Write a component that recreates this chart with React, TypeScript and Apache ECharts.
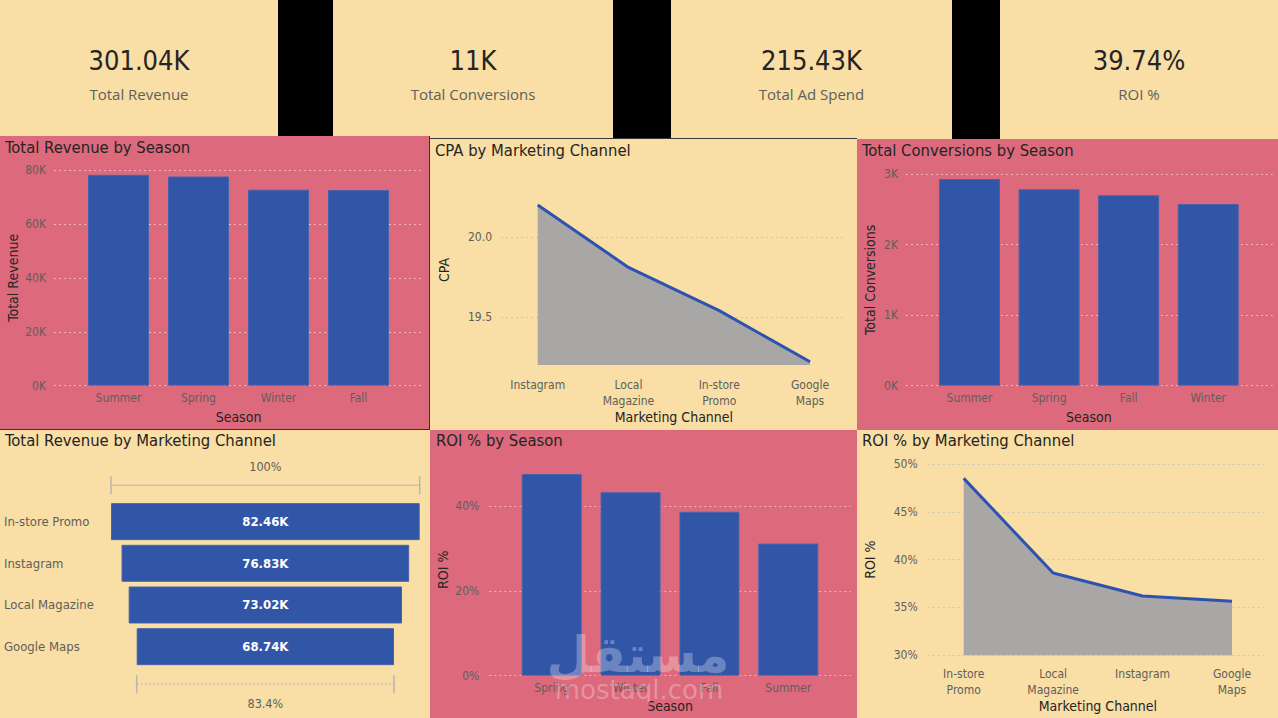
import React, { useEffect, useRef } from "react";
import * as echarts from "echarts";

// ---------- data ----------
const kpiValues = ["301.04K", "11K", "215.43K", "39.74%"];
const kpiLabels = ["Total Revenue", "Total Conversions", "Total Ad Spend", "ROI %"];

const revenueSeasons = ["Summer", "Spring", "Winter", "Fall"];
const revenueBySeason = [78200, 77600, 72700, 72540];

const cpaChannels = ["Instagram", "Local\nMagazine", "In-store\nPromo", "Google\nMaps"];
const cpaValues = [20.2, 19.81, 19.54, 19.22];

const conversionSeasons = ["Summer", "Spring", "Fall", "Winter"];
const conversionsBySeason = [2929, 2783, 2698, 2575];

const funnelChannels = ["In-store Promo", "Instagram", "Local Magazine", "Google Maps"];
const funnelRevenue = [82460, 76830, 73020, 68740];

const roiSeasons = ["Spring", "Winter", "Fall", "Summer"];
const roiBySeason = [47.6, 43.3, 38.7, 31.2];

const roiChannels = ["In-store\nPromo", "Local\nMagazine", "Instagram", "Google\nMaps"];
const roiByChannel = [48.5, 38.6, 36.2, 35.65];

const panelTitles = [
  "Total Revenue by Season",
  "CPA by Marketing Channel",
  "Total Conversions by Season",
  "Total Revenue by Marketing Channel",
  "ROI % by Season",
  "ROI % by Marketing Channel",
];

// ---------- style ----------
const BEIGE = "#F9DEA5";
const PINK = "#DC6A7C";
const BAR = "#3156A8";
const LINE = "#2D52B1";
const AREA = "#A8A7A6";
const DARK = "#252423";
const GREY = "#605E5C";
const GRID_ON_PINK = "rgba(255,255,255,0.5)";
const GRID_ON_BEIGE = "#C8C6C4";
const FONT = "'DejaVu Sans Condensed', 'DejaVu Sans', sans-serif";
const UI_FONT = "'Open Sans', 'Noto Sans', sans-serif";

const kFmt = (v: number) => v / 1000 + "K";

const gridBoxes = [
  { left: 54, top: 170, width: 368, height: 215.7 }, // 0 p1 frame
  { left: 78.5, top: 170, width: 320, height: 215.7 }, // 1 p1 data
  { left: 501, top: 237.3, width: 342, height: 80 }, // 2 p2 frame
  { left: 537.7, top: 175, width: 272.3, height: 190 }, // 3 p2 data
  { left: 906, top: 174, width: 366.7, height: 211.7 }, // 4 p3 frame
  { left: 929.7, top: 174, width: 318.3, height: 211.7 }, // 5 p3 data
  { left: 111, top: 500.8, width: 308.7, height: 166.7 }, // 6 funnel
  { left: 489.3, top: 506.3, width: 361.4, height: 169.4 }, // 7 p5 frame
  { left: 512.3, top: 463.9, width: 315.4, height: 211.8 }, // 8 p5 data
  { left: 927.7, top: 464, width: 336.6, height: 191.3 }, // 9 p6 frame
  { left: 963.7, top: 464, width: 268.3, height: 191.3 }, // 10 p6 data
];

function frameY(gi: number, min: number, max: number, interval: number, fmt: (v: number) => string, margin: number, gridColor: string) {
  return {
    type: "value",
    gridIndex: gi,
    min,
    max,
    interval,
    axisLine: { show: false },
    axisTick: { show: false },
    axisLabel: { color: GREY, fontSize: 12, fontFamily: FONT, margin, formatter: fmt },
    splitLine: { show: true, lineStyle: { color: gridColor, type: [2, 3], width: 1 } },
  };
}

function dataY(gi: number, min: number, max: number, name: string, nameGap: number) {
  return {
    type: "value",
    gridIndex: gi,
    min,
    max,
    axisLine: { show: false },
    axisTick: { show: false },
    axisLabel: { show: false },
    splitLine: { show: false },
    name,
    nameLocation: "middle",
    nameRotate: 90,
    nameGap,
    nameTextStyle: { color: DARK, fontSize: 14, fontFamily: FONT },
  };
}

function frameX(gi: number) {
  return { type: "value", gridIndex: gi, show: false, min: 0, max: 1 };
}

function dataX(gi: number, cats: string[], boundaryGap: boolean, margin: number, name: string, nameGap: number, lineHeight: number) {
  return {
    type: "category",
    gridIndex: gi,
    data: cats,
    boundaryGap,
    axisLine: { show: false },
    axisTick: { show: false },
    axisLabel: { color: GREY, fontSize: 12, fontFamily: FONT, margin, interval: 0, lineHeight },
    splitLine: { show: false },
    name,
    nameLocation: "middle",
    nameGap,
    nameTextStyle: { color: DARK, fontSize: 14, fontFamily: FONT },
  };
}

export default function App() {
  const ref = useRef<HTMLDivElement>(null);

  useEffect(() => {
    if (!ref.current) return;
    const chart = echarts.init(ref.current, null, { renderer: "svg" });

    const funnelMax = funnelRevenue[0];
    const funnelOffsets = funnelRevenue.map((v) => (funnelMax - v) / 2);
    const lastRev = funnelRevenue[funnelRevenue.length - 1];
    const bracketLabels = ["100%", ((lastRev / funnelMax) * 100).toFixed(1) + "%"];
    const bracketData = [
      [0, funnelMax, 0, -1],
      [(funnelMax - lastRev) / 2, funnelMax - (funnelMax - lastRev) / 2, funnelRevenue.length - 1, 1],
    ];

    const kpiCenters = [139, 473, 811.5, 1139];

    const bgElements: any[] = [
      { type: "rect", shape: { x: 278, y: 0, width: 55, height: 136 }, style: { fill: "#000" }, z: -10 },
      { type: "rect", shape: { x: 613, y: 0, width: 58, height: 139 }, style: { fill: "#000" }, z: -10 },
      { type: "rect", shape: { x: 952, y: 0, width: 48, height: 139 }, style: { fill: "#000" }, z: -10 },
      { type: "rect", shape: { x: 0, y: 136, width: 430, height: 294 }, style: { fill: PINK }, z: -10 },
      { type: "rect", shape: { x: 857, y: 139, width: 421, height: 291 }, style: { fill: PINK }, z: -10 },
      { type: "rect", shape: { x: 430, y: 430, width: 427, height: 288 }, style: { fill: PINK }, z: -10 },
      { type: "line", shape: { x1: 429.5, y1: 136, x2: 429.5, y2: 430 }, style: { stroke: "#4a2a30", lineWidth: 1 }, z: -9 },
      { type: "line", shape: { x1: 0, y1: 429.5, x2: 430, y2: 429.5 }, style: { stroke: "#4a2a30", lineWidth: 1 }, z: -9 },
      { type: "line", shape: { x1: 430, y1: 138.5, x2: 857, y2: 138.5 }, style: { stroke: "#3a3a3a", lineWidth: 1 }, z: -9 },
    ];

    const kpiElements: any[] = [];
    kpiValues.forEach((v, i) => {
      kpiElements.push({
        type: "text",
        z: 50,
        style: { text: v, x: kpiCenters[i], y: 60, align: "center", verticalAlign: "middle", fill: DARK, font: `27px ${FONT}` },
      });
      kpiElements.push({
        type: "text",
        z: 50,
        style: { text: kpiLabels[i], x: kpiCenters[i], y: 94, align: "center", verticalAlign: "middle", fill: GREY, font: `15px ${UI_FONT}` },
      });
    });

    const titlePos = [
      [5, 147],
      [435, 150],
      [862, 150],
      [5, 440.5],
      [436, 440.5],
      [862, 440.5],
    ];
    const titleElements = panelTitles.map((t, i) => ({
      type: "text",
      z: 50,
      style: { text: t, x: titlePos[i][0], y: titlePos[i][1], align: "left", verticalAlign: "middle", fill: DARK, font: `16.5px ${FONT}` },
    }));

    const watermark: any[] = [
      {
        type: "text",
        z: 60,
        style: { text: "مستقل", x: 638, y: 655, align: "center", verticalAlign: "middle", fill: "rgba(255,255,255,0.28)", font: `bold 50px 'DejaVu Sans', sans-serif` },
      },
      {
        type: "text",
        z: 60,
        style: { text: "mostaql.com", x: 639, y: 690, align: "center", verticalAlign: "middle", fill: "rgba(255,255,255,0.28)", font: `26px 'DejaVu Sans', sans-serif` },
      },
    ];

    const option: any = {
      animation: false,
      backgroundColor: BEIGE,
      grid: gridBoxes.map((g) => ({ ...g, containLabel: false, outerBoundsMode: "none" })),
      xAxis: [
        frameX(0),
        dataX(1, revenueSeasons, true, 5, "Season", 24, 14),
        frameX(2),
        dataX(3, cpaChannels, false, 12, "Marketing Channel", 44, 16),
        frameX(4),
        dataX(5, conversionSeasons, true, 5, "Season", 24, 14),
        { type: "value", gridIndex: 6, min: 0, max: funnelMax, show: false },
        frameX(7),
        dataX(8, roiSeasons, true, 5, "Season", 23.5, 14),
        frameX(9),
        dataX(10, roiChannels, false, 10.5, "Marketing Channel", 43, 16),
      ],
      yAxis: [
        frameY(0, 0, 80000, 20000, kFmt, 8, GRID_ON_PINK),
        dataY(1, 0, 80000, "Total Revenue", 59),
        frameY(2, 19.5, 20.0, 0.5, (v: number) => v.toFixed(1), 9, GRID_ON_BEIGE),
        dataY(3, 19.2, 20.3875, "CPA", 87),
        frameY(4, 0, 3000, 1000, kFmt, 8, GRID_ON_PINK),
        dataY(5, 0, 3000, "Total Conversions", 53),
        {
          type: "category",
          gridIndex: 6,
          data: funnelChannels,
          inverse: true,
          axisLine: { show: false },
          axisTick: { show: false },
          splitLine: { show: false },
          axisLabel: { color: GREY, fontSize: 13, fontFamily: FONT, align: "left", margin: 107 },
        },
        frameY(7, 0, 40, 20, (v: number) => v + "%", 10, GRID_ON_PINK),
        dataY(8, 0, 50, "ROI %", 62),
        frameY(9, 30, 50, 5, (v: number) => v + "%", 10, GRID_ON_BEIGE),
        dataY(10, 30, 50, "ROI %", 87),
      ],
      series: [
        {
          type: "bar",
          xAxisIndex: 1,
          yAxisIndex: 1,
          data: revenueBySeason,
          barWidth: 61,
          itemStyle: { color: BAR, borderColor: "#4a62ad", borderWidth: 1 },
        },
        {
          type: "line",
          xAxisIndex: 3,
          yAxisIndex: 3,
          data: cpaValues,
          symbol: "none",
          lineStyle: { color: LINE, width: 3 },
          itemStyle: { color: LINE },
          areaStyle: { color: AREA, opacity: 1 },
        },
        {
          type: "bar",
          xAxisIndex: 5,
          yAxisIndex: 5,
          data: conversionsBySeason,
          barWidth: 61,
          itemStyle: { color: BAR, borderColor: "#4a62ad", borderWidth: 1 },
        },
        {
          type: "bar",
          xAxisIndex: 6,
          yAxisIndex: 6,
          stack: "funnel",
          data: funnelOffsets,
          barWidth: 37,
          itemStyle: { color: "transparent" },
          silent: true,
        },
        {
          type: "bar",
          xAxisIndex: 6,
          yAxisIndex: 6,
          stack: "funnel",
          data: funnelRevenue,
          barWidth: 37,
          itemStyle: { color: BAR, borderColor: "#4a62ad", borderWidth: 1 },
          label: {
            show: true,
            position: "inside",
            color: "#ffffff",
            fontSize: 13,
            fontWeight: "bold",
            fontFamily: FONT,
            formatter: (p: any) => (p.value / 1000).toFixed(2) + "K",
          },
        },
        {
          type: "custom",
          xAxisIndex: 6,
          yAxisIndex: 6,
          data: bracketData,
          encode: { x: [0, 1], y: 2 },
          clip: false,
          silent: true,
          z: 5,
          renderItem: (params: any, api: any) => {
            const s = api.coord([api.value(0), api.value(2)]);
            const e = api.coord([api.value(1), api.value(2)]);
            const side = api.value(3);
            const y = s[1] + (side < 0 ? -36.5 : 37.5);
            const ty = s[1] + (side < 0 ? -55 : 57);
            const stroke = "#B8B5B2";
            return {
              type: "group",
              children: [
                { type: "line", shape: { x1: s[0], y1: y, x2: e[0], y2: y }, style: { stroke, lineWidth: 1, lineDash: side > 0 ? [2, 2] : null } },
                { type: "line", shape: { x1: s[0], y1: y - 9, x2: s[0], y2: y + 9 }, style: { stroke, lineWidth: 1.5 } },
                { type: "line", shape: { x1: e[0], y1: y - 9, x2: e[0], y2: y + 9 }, style: { stroke, lineWidth: 1.5 } },
                {
                  type: "text",
                  style: {
                    text: bracketLabels[params.dataIndex],
                    x: (s[0] + e[0]) / 2,
                    y: ty,
                    align: "center",
                    verticalAlign: "middle",
                    fill: GREY,
                    font: `12.5px ${FONT}`,
                  },
                },
              ],
            };
          },
        },
        {
          type: "bar",
          xAxisIndex: 8,
          yAxisIndex: 8,
          data: roiBySeason,
          barWidth: 60,
          itemStyle: { color: BAR, borderColor: "#4a62ad", borderWidth: 1 },
        },
        {
          type: "line",
          xAxisIndex: 10,
          yAxisIndex: 10,
          data: roiByChannel,
          symbol: "none",
          lineStyle: { color: LINE, width: 3 },
          itemStyle: { color: LINE },
          areaStyle: { color: AREA, opacity: 1 },
        },
      ],
      graphic: { elements: [...bgElements, ...kpiElements, ...titleElements, ...watermark] },
    };

    chart.setOption(option);
    return () => chart.dispose();
  }, []);

  return (
    <div
      ref={ref}
      style={{ position: "fixed", left: 0, top: 0, width: 1278, height: 718 }}
    />
  );
}
